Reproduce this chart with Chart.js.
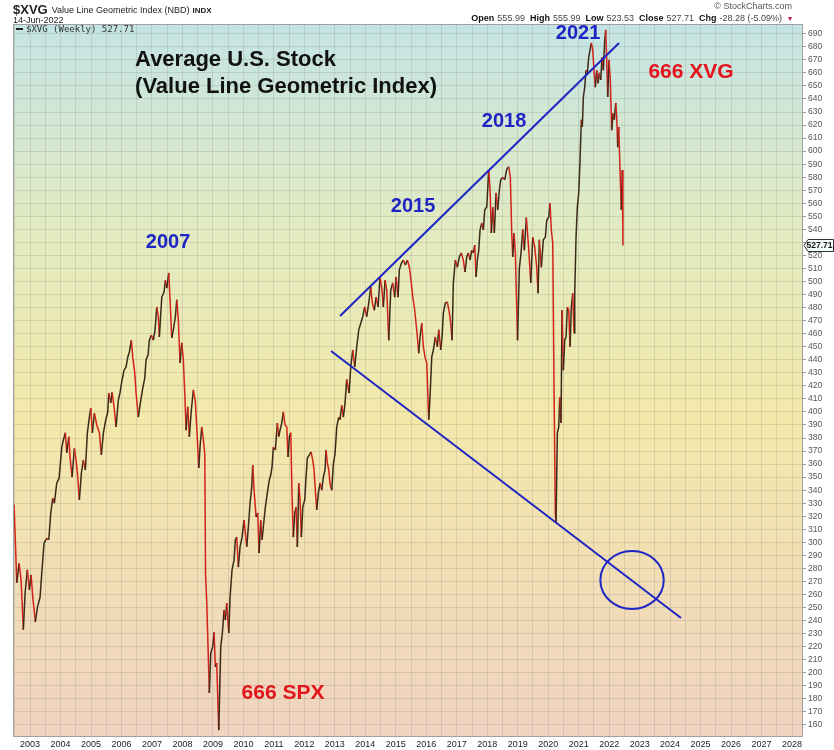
<!DOCTYPE html>
<html><head><meta charset="utf-8">
<script src="https://cdn.jsdelivr.net/npm/chart.js@4.4.0/dist/chart.umd.min.js"></script>
<style>html,body{margin:0;padding:0;background:#fff;}#wrap{width:834px;height:750px;position:relative;}</style>
</head><body><div id="wrap"><canvas id="c" width="834" height="750"></canvas></div>
<script>
// ---- DATA (weekly-ish readings of $XVG, decimal years) ----
const dates = [2002.475,2002.564,2002.639,2002.705,2002.780,2002.836,2002.911,2002.977,2003.033,2003.089,2003.174,2003.240,2003.328,2003.384,2003.459,2003.548,2003.614,2003.679,2003.745,2003.797,2003.876,2003.951,
2004.040,2004.093,2004.158,2004.204,2004.270,2004.312,2004.378,2004.453,2004.509,2004.565,2004.617,2004.683,2004.749,2004.814,2004.880,2004.946,2004.991,
2005.044,2005.110,2005.188,2005.274,2005.339,2005.405,2005.484,2005.549,2005.582,2005.648,2005.690,2005.756,2005.821,2005.897,2005.953,
2006.018,2006.084,2006.150,2006.205,2006.258,2006.323,2006.369,2006.435,2006.478,2006.553,2006.632,2006.697,2006.763,2006.806,2006.871,2006.914,2006.980,
2007.045,2007.101,2007.157,2007.209,2007.242,2007.321,2007.396,2007.439,2007.485,2007.550,2007.593,2007.649,2007.701,2007.767,2007.813,2007.865,2007.921,2007.977,
2008.029,2008.085,2008.118,2008.174,2008.226,2008.282,2008.358,2008.423,2008.469,2008.535,2008.577,2008.633,2008.686,2008.732,2008.758,2008.797,2008.830,2008.882,2008.928,2008.994,
2009.037,2009.079,2009.125,2009.191,2009.256,2009.309,2009.365,2009.407,2009.453,2009.519,2009.562,2009.627,2009.693,2009.736,2009.781,2009.834,2009.890,2009.955,
2010.021,2010.064,2010.110,2010.162,2010.218,2010.274,2010.306,2010.349,2010.415,2010.470,2010.513,2010.569,2010.611,2010.654,2010.720,2010.785,2010.851,2010.897,2010.940,2010.982,
2011.048,2011.114,2011.159,2011.202,2011.258,2011.310,2011.366,2011.422,2011.464,2011.507,2011.553,2011.596,2011.638,2011.684,2011.727,2011.770,2011.816,2011.858,2011.901,2011.947,
2012.012,2012.055,2012.098,2012.163,2012.219,2012.275,2012.318,2012.360,2012.406,2012.459,2012.514,2012.570,2012.623,2012.678,2012.711,2012.754,2012.800,2012.842,2012.898,2012.951,
2013.006,2013.062,2013.128,2013.170,2013.226,2013.279,2013.335,2013.390,2013.466,2013.522,2013.587,2013.653,2013.718,2013.784,2013.850,2013.915,2013.981,
2014.046,2014.112,2014.178,2014.230,2014.296,2014.352,2014.417,2014.483,2014.548,2014.591,2014.647,2014.703,2014.768,2014.834,2014.899,2014.965,
2015.008,2015.073,2015.116,2015.182,2015.247,2015.313,2015.379,2015.444,2015.500,2015.556,2015.608,2015.664,2015.707,2015.752,2015.795,2015.851,2015.904,2015.959,
2016.015,2016.081,2016.123,2016.179,2016.232,2016.297,2016.363,2016.409,2016.474,2016.517,2016.560,2016.625,2016.691,2016.757,2016.802,2016.845,2016.888,2016.953,
2017.019,2017.085,2017.150,2017.216,2017.271,2017.327,2017.380,2017.436,2017.491,2017.544,2017.590,2017.633,2017.675,2017.721,2017.764,2017.820,2017.872,2017.918,2017.984,
2018.049,2018.092,2018.134,2018.180,2018.233,2018.289,2018.344,2018.397,2018.443,2018.508,2018.574,2018.640,2018.705,2018.758,2018.804,2018.837,2018.879,2018.922,2018.994,
2019.053,2019.109,2019.165,2019.217,2019.283,2019.355,2019.427,2019.493,2019.558,2019.624,2019.667,2019.709,2019.775,2019.840,2019.906,2019.952,
2020.018,2020.060,2020.103,2020.149,2020.191,2020.234,2020.257,2020.300,2020.346,2020.378,2020.421,2020.454,2020.497,2020.542,2020.585,2020.628,2020.674,2020.716,2020.759,2020.805,2020.848,2020.871,2020.913,2020.956,
2021.002,2021.044,2021.087,2021.120,2021.153,2021.198,2021.241,2021.284,2021.330,2021.372,2021.415,2021.461,2021.503,2021.546,2021.592,2021.635,2021.678,2021.724,2021.766,2021.809,2021.855,2021.888,2021.920,2021.953,2021.996,
2022.038,2022.084,2022.127,2022.170,2022.216,2022.248,2022.281,2022.314,2022.357,2022.399,2022.432,2022.452];

const values = [329,269,284,271,233,261,279,263.5,275,258,239,250,258,276.5,299.5,303,302,322.5,334,330,345.5,349,
373,378.5,384,368.5,381,365.5,350,372,363,350,332.5,353,363,355.5,384,396,403,
384,399,390,384,367,384,394,400,414.5,407,415,404,388.5,409,415,
424.5,432,434.5,442,446,455,442,430,414.5,396,409,418,426,440,443.7,455,459,
455,463,480.5,473,457.5,488,492,501,495,506.6,486,456.7,463,473,486,470.5,437.5,453,
440,409,386,404,381,399,417,408,388.5,357,373,388.5,378.5,368,275,254,227.5,184.5,215,220,
231,204.4,207.5,156,220,230.5,248,240.5,253.5,230.5,258,279,286.5,302,304,281,296.5,304,
317,307,296.5,312,330,342.4,359.3,340,319.5,322.5,291.8,317,302,312,327,338,348,351.6,358,373,
370.8,391.5,381,386,391.5,400,390,388.5,365.5,381,384,335,304,322.5,327,296.5,345.5,332.5,304,327,
332.5,350,364.7,367,369.3,363,355.5,340,324.8,338,345.5,340,350,355.5,370.8,360.8,355.5,345,340,360,
368,388.5,396,394,405,396,407,425,414.5,434.5,447.5,434.5,450,463,468,473,480.5,
473,483.5,496,483.5,478,488,480.5,503.5,493.5,480.5,501,493.5,455,493.5,499,488,
503.5,488,509,514,516.5,512.7,516.5,511,501,488,480.5,468,457.5,445,457.5,468,450,442,
437.5,394,411.5,442,447.5,457.5,450,463,447.5,457.5,476,483.5,484.3,476,468,455,499,516.5,
511,518.8,522,516.5,507.3,518.8,522,516.5,524,522,528,503.5,516.5,524,539.5,545,539.5,555,557.2,
585.5,570,537.2,557.2,537.2,568,555,570,578,580,578,586,588,580,537,519,537,522,455,
510,522,540,524,549,527,499,534,526.5,511,491,532,511,532,534,547,
549.5,560,539.5,529.6,419,322.5,315,384,388.5,411.5,391.5,478,432,455,457.5,480.5,478,450,480.5,491,460.5,491,534,557.2,
568,593,624,618.5,641.5,649,662,660,672,677.5,683,677.5,662,649,662,652,660,654.6,672,662,685,693,670,641.5,670,
654.6,616,629,624,637,626,603,618.5,585.5,555,585.5,527.71];

const yearTicks = [2003,2004,2005,2006,2007,2008,2009,2010,2011,2012,2013,2014,2015,2016,2017,2018,2019,2020,2021,2022,2023,2024,2025,2026,2027,2028];
const priceTicks = [160,170,180,190,200,210,220,230,240,250,260,270,280,290,300,310,320,330,340,350,360,370,380,390,400,410,420,430,440,450,460,470,480,490,500,510,520,530,540,550,560,570,580,590,600,610,620,630,640,650,660,670,680,690];

const symbol = '$XVG';
const indexName = 'Value Line Geometric Index (NBD)';
const exchange = 'INDX';
const asOf = '14-Jun-2022';
const quote = [['Open','555.99'],['High','555.99'],['Low','523.53'],['Close','527.71'],['Chg','-28.28 (-5.09%)']];
const lastClose = 527.71;

// drawn annotations (data space)
const trendUpper = [[2013.170,473.6],[2022.324,682.9]];
const trendLower = [[2012.875,446.7],[2024.358,242.0]];
const circleCenter = [2022.751,271.1];
const circleRadius = [1.04,22.3];
const blueLabels = [['2007',2007.528,530.3],['2015',2015.566,557.2],['2018',2018.551,622.4],['2021',2020.979,690.6]];
const redLabels = [['666 XVG',2024.686,660.7],['666 SPX',2011.300,184.5]];
const titleLines = [['Average U.S. Stock',2006.445,669.9],['(Value Line Geometric Index)',2006.445,649.2]];

// ---- CHART ----
const FONT = '"Liberation Sans", Arial, Helvetica, sans-serif';
const halfYears = [];
for (let i = 0; i < yearTicks.length; i++) { halfYears.push(yearTicks[i] - 0.5); halfYears.push(yearTicks[i]); }
const RED = '#d1221b', DARK = '#3a2a18', BLUE = '#1f24c4';
const GRID = 'rgba(120,120,120,0.2)';

const bgPlugin = {
  id: 'bg',
  beforeDraw(chart) {
    const {ctx, chartArea: a} = chart;
    const g = ctx.createLinearGradient(0, a.top, 0, a.bottom);
    g.addColorStop(0, '#c4e4e4');
    g.addColorStop(0.3, '#e3ebc0');
    g.addColorStop(0.55, '#f3e9aa');
    g.addColorStop(1, '#f0d3c0');
    ctx.save(); ctx.fillStyle = g; ctx.fillRect(a.left, a.top, a.right - a.left, a.bottom - a.top); ctx.restore();
  }
};

const overlayPlugin = {
  id: 'overlay',
  afterDatasetsDraw(chart) {
    const {ctx, scales: {x, y}, chartArea: a} = chart;
    const px = v => x.getPixelForValue(v), py = v => y.getPixelForValue(v);
    ctx.save();
    ctx.beginPath(); ctx.rect(a.left, a.top, a.right - a.left, a.bottom - a.top); ctx.clip();
    ctx.strokeStyle = BLUE; ctx.lineWidth = 2;
    [trendUpper, trendLower].forEach(t => {
      ctx.beginPath(); ctx.moveTo(px(t[0][0]), py(t[0][1])); ctx.lineTo(px(t[1][0]), py(t[1][1])); ctx.stroke();
    });
    const cx = px(circleCenter[0]), cy = py(circleCenter[1]);
    const rx = Math.abs(px(circleCenter[0] + circleRadius[0]) - cx), ry = Math.abs(py(circleCenter[1] + circleRadius[1]) - cy);
    ctx.beginPath(); ctx.ellipse(cx, cy, rx, ry, 0, 0, Math.PI * 2); ctx.stroke();
    ctx.textAlign = 'center'; ctx.textBaseline = 'middle';
    ctx.font = 'bold 20px ' + FONT; ctx.fillStyle = BLUE;
    blueLabels.forEach(l => ctx.fillText(l[0], px(l[1]), py(l[2])));
    ctx.font = 'bold 21px ' + FONT; ctx.fillStyle = '#e3141b';
    redLabels.forEach(l => ctx.fillText(l[0], px(l[1]), py(l[2])));
    ctx.font = 'bold 22px ' + FONT; ctx.fillStyle = '#111'; ctx.textAlign = 'left';
    titleLines.forEach(l => ctx.fillText(l[0], px(l[1]), py(l[2])));
    ctx.restore();
  },
  afterDraw(chart) {
    const {ctx, scales: {y}, chartArea: a} = chart;
    ctx.save();
    // plot border
    ctx.strokeStyle = '#a0a0a0'; ctx.lineWidth = 1;
    ctx.strokeRect(a.left + 0.5, a.top + 0.5, a.right - a.left - 1, a.bottom - a.top);
    // header left
    ctx.textBaseline = 'alphabetic'; ctx.textAlign = 'left'; ctx.fillStyle = '#222';
    ctx.font = 'bold 13px ' + FONT; ctx.fillText(symbol, 13, 14);
    let w = ctx.measureText(symbol).width;
    ctx.font = '9px ' + FONT; ctx.fillText(indexName, 13 + w + 4, 13);
    let w2 = ctx.measureText(indexName).width;
    ctx.font = 'bold 8px ' + FONT; ctx.fillText(exchange, 13 + w + 4 + w2 + 3, 13);
    ctx.font = '9px ' + FONT; ctx.fillText(asOf, 13, 23);
    // legend inside plot
    ctx.fillStyle = '#222'; ctx.fillRect(16, 28, 7, 2);
    ctx.font = '9px "DejaVu Sans Mono", monospace'; ctx.fillStyle = '#333';
    ctx.fillText(symbol + ' (Weekly) ' + lastClose.toFixed(2), 26, 32);
    // header right
    ctx.textAlign = 'right'; ctx.font = '9px ' + FONT; ctx.fillStyle = '#555';
    ctx.fillText('\u00A9 StockCharts.com', 792, 9);
    let xr = 792;
    ctx.fillStyle = '#c2185b'; ctx.font = '8px ' + FONT; ctx.fillText('\u25BE', xr, 21); xr -= 10;
    for (let i = quote.length - 1; i >= 0; i--) {
      ctx.font = '9px ' + FONT; ctx.fillStyle = '#444';
      ctx.fillText(quote[i][1], xr, 21); xr -= ctx.measureText(quote[i][1]).width + 3;
      ctx.font = 'bold 9px ' + FONT; ctx.fillStyle = '#111';
      ctx.fillText(quote[i][0], xr, 21); xr -= ctx.measureText(quote[i][0]).width + 5;
    }
    // last price tag on axis
    const ty = Math.round(y.getPixelForValue(lastClose)) + 0.5;
    ctx.beginPath();
    ctx.moveTo(a.right + 1, ty); ctx.lineTo(a.right + 5, ty - 6); ctx.lineTo(833.5, ty - 6);
    ctx.lineTo(833.5, ty + 6); ctx.lineTo(a.right + 5, ty + 6); ctx.closePath();
    ctx.fillStyle = '#f4fbfb'; ctx.fill(); ctx.strokeStyle = '#333'; ctx.lineWidth = 1; ctx.stroke();
    ctx.fillStyle = '#111'; ctx.font = 'bold 8.5px ' + FONT; ctx.textAlign = 'right'; ctx.textBaseline = 'middle';
    ctx.fillText(lastClose.toFixed(2), 832.5, ty + 0.5);
    ctx.restore();
  }
};

new Chart(document.getElementById('c'), {
  type: 'line',
  data: { datasets: [{
    data: dates.map((d, i) => ({x: d, y: values[i]})),
    borderColor: RED, borderWidth: 1.5, pointRadius: 0, tension: 0,
    segment: { borderColor: c => (c.p1.parsed.y > c.p0.parsed.y ? DARK : RED) }
  }]},
  options: {
    responsive: false, animation: false, events: [],
    layout: { padding: { left: 13, top: 24, right: 0, bottom: 0 } },
    plugins: { legend: { display: false }, tooltip: { enabled: false } },
    scales: {
      x: {
        type: 'linear', min: 2002.44, max: 2028.36,
        afterBuildTicks: s => { s.ticks = halfYears.map(v => ({value: v})); },
        afterFit: s => { s.height = 14; },
        grid: { color: GRID, drawTicks: false },
        border: { display: false },
        ticks: { autoSkip: false, maxRotation: 0, padding: 3, color: '#222', font: { family: FONT, size: 9 },
          callback: v => (Number.isInteger(v) ? String(v) : '') }
      },
      y: {
        type: 'linear', position: 'right', min: 151.5, max: 697.5,
        afterBuildTicks: s => { s.ticks = priceTicks.map(v => ({value: v})); },
        afterFit: s => { s.width = 31; },
        grid: { color: GRID, tickLength: 3, tickColor: '#999' },
        border: { display: false },
        ticks: { autoSkip: false, padding: 2, color: '#555', font: { family: FONT, size: 8.5 },
          callback: v => String(v) }
      }
    }
  },
  plugins: [bgPlugin, overlayPlugin]
});
</script></body></html>
